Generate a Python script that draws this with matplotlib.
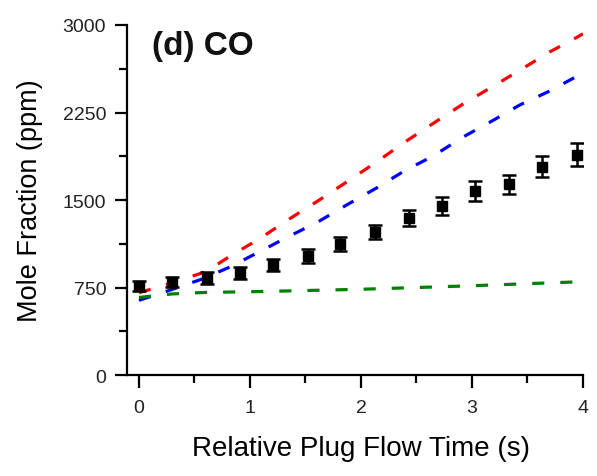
import matplotlib
matplotlib.use("Agg")
import matplotlib.pyplot as plt
from matplotlib.ticker import MultipleLocator

plt.rcParams['font.family'] = ['Liberation Sans', 'DejaVu Sans']

# Experimental data
exp_t = [0.0, 0.30, 0.61, 0.91, 1.21, 1.52, 1.81, 2.13, 2.43, 2.73, 3.03, 3.33, 3.63, 3.95]
exp_y = [766, 794, 831, 874, 945, 1020, 1123, 1224, 1346, 1449, 1577, 1634, 1784, 1890]
exp_err = [43, 43, 50, 50, 52, 56, 60, 62, 69, 77, 86, 83, 90, 96]

# Model curves
red_t = [0.0, 0.3, 0.6, 0.84, 1.09, 1.34, 1.61, 1.87, 2.14, 2.41, 2.67, 2.92, 3.18, 3.45, 3.70, 3.95, 4.0]
red_y = [705, 790, 885, 1030, 1170, 1329, 1491, 1654, 1826, 2006, 2169, 2323, 2469, 2623, 2769, 2897, 2925]

blue_t = [0.0, 0.31, 0.57, 0.82, 1.08, 1.34, 1.61, 1.87, 2.14, 2.39, 2.65, 2.92, 3.18, 3.43, 3.70, 3.95, 4.0]
blue_y = [640, 737, 823, 926, 1054, 1183, 1311, 1457, 1603, 1749, 1877, 2040, 2177, 2314, 2434, 2563, 2590]

green_t = [0.0, 0.3, 0.6, 1.0, 1.5, 2.0, 2.5, 3.0, 3.5, 4.0]
green_y = [665, 695, 708, 714, 724, 735, 750, 765, 783, 800]

fig = plt.figure(figsize=(5.97, 4.77), dpi=100)
ax = fig.add_axes([0.2127, 0.2117, 0.7638, 0.7338])

dash = (3.8, 5.0)
ax.plot(red_t, red_y, color='#ff0000', lw=2.3, linestyle=(0, dash))
ax.plot(blue_t, blue_y, color='#0000ff', lw=2.3, linestyle=(0, dash))
ax.plot(green_t, green_y, color='#008000', lw=2.3, linestyle=(0, dash))

ax.errorbar(exp_t, exp_y, yerr=exp_err, fmt='s', color='black', ms=6.5,
            elinewidth=1.8, capsize=5, capthick=1.8, zorder=5)

ax.set_xlim(-0.108, 4.0)
ax.set_ylim(0, 3000)
ax.xaxis.set_major_locator(MultipleLocator(1))
ax.xaxis.set_minor_locator(MultipleLocator(0.5))
ax.yaxis.set_major_locator(MultipleLocator(750))
ax.yaxis.set_minor_locator(MultipleLocator(375))

for s in ['top', 'right']:
    ax.spines[s].set_visible(False)
for s in ['left', 'bottom']:
    ax.spines[s].set_linewidth(1.6)

ax.tick_params(axis='x', which='major', direction='out', length=9, width=1.6,
               labelsize=14, colors='black', pad=8)
ax.tick_params(axis='y', which='major', direction='out', length=9, width=1.6,
               labelsize=14, colors='black', pad=6)
ax.tick_params(axis='both', which='minor', direction='out', length=5.5, width=1.6)
for lab in ax.get_xticklabels() + ax.get_yticklabels():
    lab.set_color('#222222')

ax.set_ylabel('Mole Fraction (ppm)', fontsize=19.5, labelpad=14)
ax.set_xlabel('Relative Plug Flow Time (s)', fontsize=20, labelpad=12)
ax.xaxis.set_label_coords(0.514, -0.17)

ax.text(0.055, 0.985, '(d) CO', transform=ax.transAxes, fontsize=24,
        fontweight='bold', ha='left', va='top', color='#111111')

fig.savefig('out.png', dpi=100)
